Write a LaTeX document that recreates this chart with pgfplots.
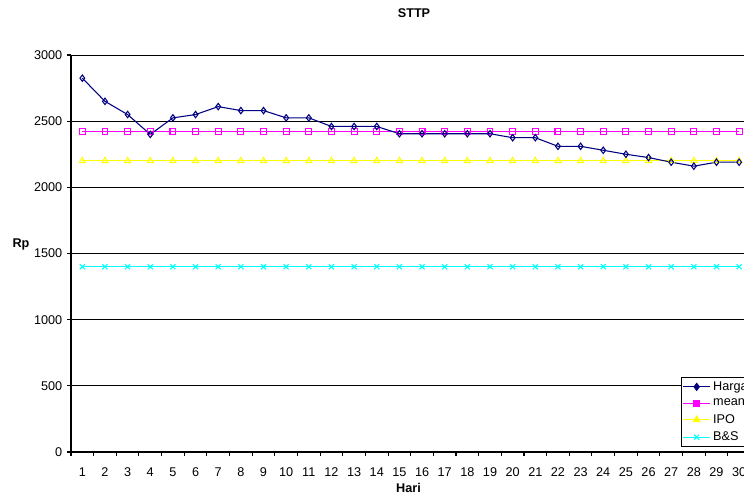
\documentclass[border=0pt]{standalone}
\usepackage{fontspec}
\setmainfont{Liberation Sans}
\usepackage{pgfplots}
\pgfplotsset{compat=1.18}
\definecolor{harga}{RGB}{0,0,128}
\definecolor{meanc}{RGB}{255,0,255}
\definecolor{ipo}{RGB}{255,255,0}
\definecolor{bs}{RGB}{0,255,255}
\begin{document}
\begin{tikzpicture}
\useasboundingbox (0,0) rectangle (558pt,375.75pt);
\clip (0,0) rectangle (558pt,375.75pt);
\begin{axis}[
  at={(53.25pt,36.75pt)}, anchor=south west,
  scale only axis, width=509.6pt, height=297.75pt,
  xmin=0.5, xmax=30.5, ymin=0, ymax=3000,
  axis lines*=left,
  axis line style={black, line width=0.8pt, -},
  xtick={1,...,30}, minor xtick={0.5,1.5,...,30.5},
  ytick={0,500,...,3000},
  tick align=outside,
  major tick length=3pt, minor tick length=3pt,
  x tick style={draw=none}, minor x tick style={draw=black, line width=0.8pt},
  y tick style={black, line width=0.8pt},
  ymajorgrids, grid style={black, line width=0.6pt},
  /pgf/number format/assume math mode=true,
  /pgf/number format/1000 sep={},
  tick label style={font=\fontsize{9.5}{11}\selectfont},
  xticklabel style={yshift=-5pt},
  title={\textbf{STTP}},
  every axis title/.style={at={(axis description cs:0.5048,1.1058)}, anchor=center, font=\fontsize{9.5}{11}\selectfont},
  xlabel={\textbf{Hari}},
  xlabel style={at={(axis description cs:0.4967,-0.0907)}, anchor=center, font=\fontsize{9.5}{11}\selectfont},
  ylabel={\textbf{Rp}},
  ylabel style={at={(axis description cs:-0.0736,0.524)}, rotate=-90, anchor=center, font=\fontsize{9.5}{11}\selectfont},
  legend style={at={(axis description cs:0.8977,0.189)}, anchor=north west, draw=black, line width=0.8pt,
    font=\fontsize{9.5}{11}\selectfont, inner sep=1pt, row sep=1pt, fill=white},
  legend cell align=left,
  legend image code/.code={\draw[mark repeat=2,mark phase=2,#1] plot coordinates {(0pt,0pt) (10pt,0pt) (20pt,0pt)};},
]
\addplot[bs, line width=0.8pt, mark=x, mark size=2.7pt, forget plot] coordinates {
(1,1400)(2,1400)(3,1400)(4,1400)(5,1400)(6,1400)(7,1400)(8,1400)(9,1400)(10,1400)
(11,1400)(12,1400)(13,1400)(14,1400)(15,1400)(16,1400)(17,1400)(18,1400)(19,1400)(20,1400)
(21,1400)(22,1400)(23,1400)(24,1400)(25,1400)(26,1400)(27,1400)(28,1400)(29,1400)(30,1400)};
\addplot[ipo, line width=0.8pt, mark=triangle, mark size=2.6pt, mark options={solid}, forget plot] coordinates {
(1,2200)(2,2200)(3,2200)(4,2200)(5,2200)(6,2200)(7,2200)(8,2200)(9,2200)(10,2200)
(11,2200)(12,2200)(13,2200)(14,2200)(15,2200)(16,2200)(17,2200)(18,2200)(19,2200)(20,2200)
(21,2200)(22,2200)(23,2200)(24,2200)(25,2200)(26,2200)(27,2200)(28,2200)(29,2200)(30,2200)};
\addplot[meanc, line width=0.8pt, mark=square, mark size=2.2pt, forget plot] coordinates {
(1,2420)(2,2420)(3,2420)(4,2420)(5,2420)(6,2420)(7,2420)(8,2420)(9,2420)(10,2420)
(11,2420)(12,2420)(13,2420)(14,2420)(15,2420)(16,2420)(17,2420)(18,2420)(19,2420)(20,2420)
(21,2420)(22,2420)(23,2420)(24,2420)(25,2420)(26,2420)(27,2420)(28,2420)(29,2420)(30,2420)};
\addplot[harga, line width=0.8pt, mark=diamond, mark size=2.4pt, forget plot] coordinates {
(1,2825)(2,2650)(3,2550)(4,2400)(5,2525)(6,2550)(7,2610)(8,2580)(9,2580)(10,2525)
(11,2525)(12,2460)(13,2460)(14,2460)(15,2405)(16,2405)(17,2405)(18,2405)(19,2405)(20,2375)
(21,2375)(22,2310)(23,2310)(24,2280)(25,2250)(26,2225)(27,2190)(28,2160)(29,2190)(30,2190)};
\addlegendimage{harga, line width=0.8pt, mark=diamond*, mark size=2.6pt}
\addlegendentry{Harga}
\addlegendimage{meanc, line width=0.8pt, mark=square*, mark size=2.3pt}
\addlegendentry{mean}
\addlegendimage{ipo, line width=0.8pt, mark=triangle*, mark size=2.8pt}
\addlegendentry{IPO}
\addlegendimage{bs, line width=0.8pt, mark=x, mark size=2.7pt}
\addlegendentry{B\&S}
\end{axis}
\end{tikzpicture}
\end{document}
